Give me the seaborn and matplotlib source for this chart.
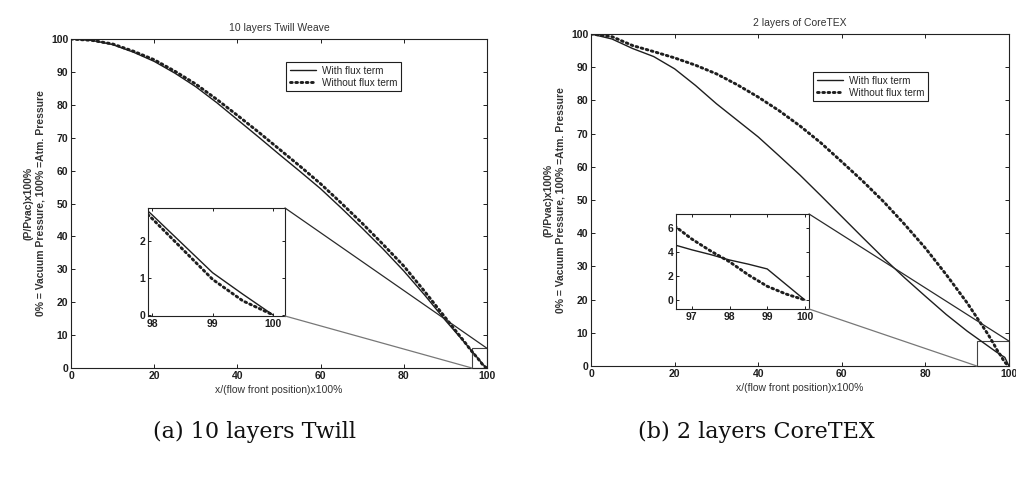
import pandas as pd
import matplotlib
matplotlib.use("Agg")
import matplotlib.pyplot as plt
from matplotlib.patches import Rectangle, ConnectionPatch
import seaborn as sns

# values
x_a = [0, 5, 10, 15, 20, 25, 30, 35, 40, 45, 50, 55, 60, 65, 70, 75, 80, 85, 90, 95, 96, 97,
       97.5, 98, 98.5, 99, 99.5, 100]
with_a = [100, 99.6, 98.3, 96.0, 93.2, 89.6, 85.5, 80.7, 75.5, 70.3, 65.0, 59.8, 54.5, 48.6,
          42.5, 36.2, 29.5, 22.2, 14.5, 7.2, 5.7, 4.2, 3.45, 2.7, 1.92, 1.14, 0.56, 0]
without_a = [100, 99.6, 98.5, 96.3, 93.7, 90.2, 86.3, 81.7, 76.8, 71.8, 66.6, 61.4, 56.0, 50.1,
             44.0, 37.6, 31.0, 23.3, 15.3, 7.3, 5.6, 4.1, 3.35, 2.6, 1.78, 0.96, 0.38, 0]

x_b = [0, 5, 10, 15, 20, 25, 30, 35, 40, 45, 50, 55, 60, 65, 70, 75, 80, 85, 90, 95, 96.5,
       97, 97.5, 98, 98.5, 99, 99.5, 100]
with_b = [100, 98.5, 95.6, 93.2, 89.5, 84.5, 79, 74, 69, 63.3, 57.5, 51.3, 45, 38.7, 32.5,
          26.6, 21, 15.5, 10.5, 6.0, 4.65, 4.2, 3.8, 3.35, 3.0, 2.6, 1.3, 0]
without_b = [100, 99.2, 96.5, 94.7, 92.8, 90.6, 88, 84.7, 81, 76.9, 72.3, 67.2, 61.5, 55.7,
             49.5, 42.7, 35.5, 27.5, 19, 9.5, 6.3, 5.1, 4.1, 3.2, 2.1, 1.15, 0.5, 0]

titles = ["10 layers Twill Weave", "2 layers of CoreTEX"]
captions = ["(a) 10 layers Twill", "(b) 2 layers CoreTEX"]
ylabel = "(P/Pvac)x100%\n0% = Vacuum Pressure, 100% =Atm. Pressure"
xlabel = "x/(flow front position)x100%"

sns.set_theme(style="ticks", rc={"xtick.direction": "in", "ytick.direction": "in",
                                 "xtick.top": True, "ytick.right": True,
                                 "axes.linewidth": 0.8, "axes.edgecolor": "#222222"})
plt.rcParams["font.family"] = ["Liberation Sans", "DejaVu Sans"]

ink = "#1e1e1e"
dots = (0, (0.6, 1.2))

fig = plt.figure(figsize=(10.16, 4.8), dpi=100)

panels = [
    dict(x=x_a, w=with_a, wo=without_a, main=[0.0699, 0.2333, 0.4094, 0.6854],
         inset=[0.1457, 0.3417, 0.1348, 0.225], ixlim=(97.93, 100.2), iylim=(-0.03, 2.89),
         ixt=[98, 99, 100], iyt=[0, 1, 2], box=(96.4, 0, 3.6, 6),
         leg=(0.505, 0.945)),
    dict(x=x_b, w=with_b, wo=without_b, main=[0.5817, 0.2375, 0.4114, 0.6917],
         inset=[0.6654, 0.3563, 0.1309, 0.1979], ixlim=(96.58, 100.11), iylim=(-0.75, 7.2),
         ixt=[97, 98, 99, 100], iyt=[0, 2, 4, 6], box=(92.3, 0, 7.7, 7.5),
         leg=(0.52, 0.9)),
]

for i, p in enumerate(panels):
    df = pd.DataFrame({"x": p["x"], "with": p["w"], "without": p["wo"]})
    ax = fig.add_axes(p["main"])
    sns.lineplot(data=df, x="x", y="with", ax=ax, color=ink, lw=1.0, label="With flux term")
    sns.lineplot(data=df, x="x", y="without", ax=ax, color=ink, lw=2.1, linestyle=dots,
                 dash_capstyle="round", label="Without flux term")
    ax.set_xlim(0, 100)
    ax.set_ylim(0, 100)
    ax.set_xticks(range(0, 101, 20))
    ax.set_yticks(range(0, 101, 10))
    ax.tick_params(labelsize=7.5, length=3, width=0.7, colors=ink, pad=2)
    for t in ax.get_xticklabels() + ax.get_yticklabels():
        t.set_fontweight("bold")
    ax.set_title(titles[i], fontsize=7.5, color="#333333", pad=6)
    ax.set_xlabel(xlabel, fontsize=7.5, color="#333333", labelpad=3)
    ax.set_ylabel(ylabel, fontsize=7.5, color="#333333", fontweight="bold", labelpad=4)
    leg = ax.legend(loc="upper left", bbox_to_anchor=p["leg"], fontsize=7.2, frameon=True,
                    fancybox=False, edgecolor=ink, framealpha=1, handlelength=2.6,
                    borderpad=0.35, labelspacing=0.2, handletextpad=0.6)
    leg.get_frame().set_linewidth(0.8)

    bx, by, bw, bh = p["box"]
    ax.add_patch(Rectangle((bx, by), bw, bh, fill=False, ec="#444444", lw=0.8, clip_on=False))

    ins = fig.add_axes(p["inset"])
    sns.lineplot(data=df, x="x", y="with", ax=ins, color=ink, lw=1.0)
    sns.lineplot(data=df, x="x", y="without", ax=ins, color=ink, lw=2.1, linestyle=dots,
                 dash_capstyle="round")
    ins.set_xlim(*p["ixlim"])
    ins.set_ylim(*p["iylim"])
    ins.set_xticks(p["ixt"])
    ins.set_yticks(p["iyt"])
    ins.set_xlabel("")
    ins.set_ylabel("")
    ins.tick_params(labelsize=7.5, length=2.5, width=0.7, colors=ink, pad=2)
    for t in ins.get_xticklabels() + ins.get_yticklabels():
        t.set_fontweight("bold")

    c1 = ConnectionPatch(xyA=(1, 1), coordsA=ins.transAxes, xyB=(bx + bw, by + bh),
                         coordsB=ax.transData, color="#2a2a2a", lw=0.9)
    c2 = ConnectionPatch(xyA=(1, 0), coordsA=ins.transAxes, xyB=(bx, by),
                         coordsB=ax.transData, color="#777777", lw=0.9)
    fig.add_artist(c1)
    fig.add_artist(c2)

    cx = p["main"][0] + p["main"][2] * (0.44 if i == 0 else 0.395)
    fig.text(cx, 0.1, captions[i], ha="center", va="center", fontsize=16,
             family=["DejaVu Serif"], color="#111111")

fig.savefig("out.png", dpi=100, facecolor="white")
